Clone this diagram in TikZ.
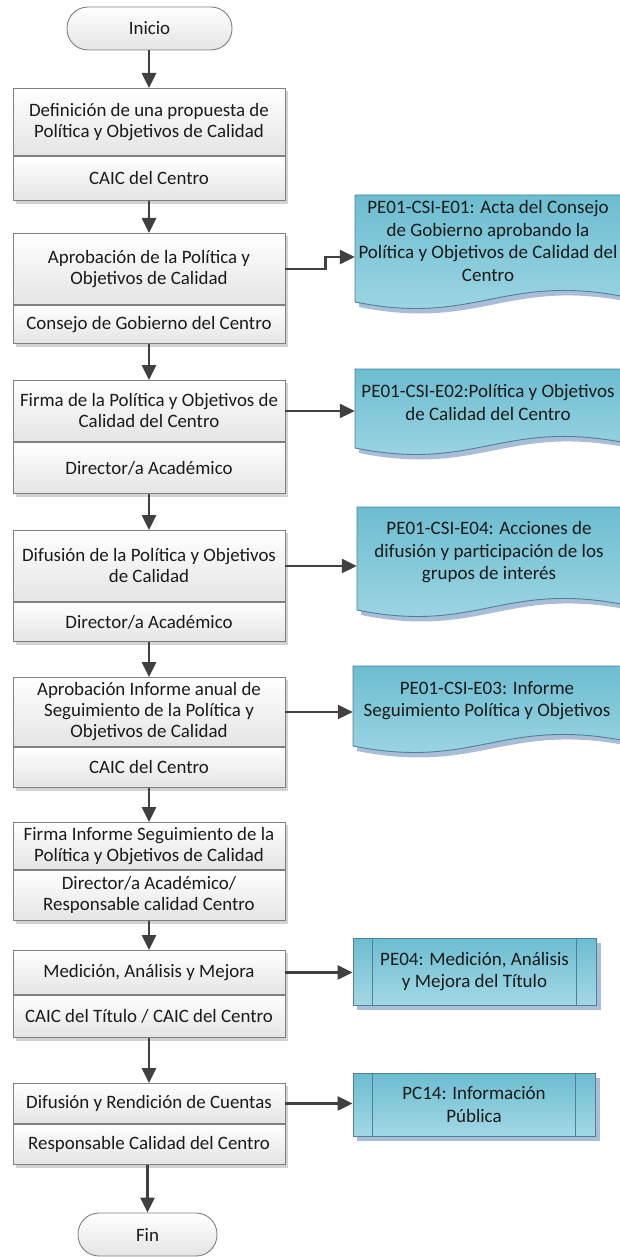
\documentclass[tikz,border=0pt]{standalone}
\usepackage{fontspec}
\setmainfont{Carlito}
\usetikzlibrary{arrows.meta,calc}
\definecolor{boxline}{HTML}{808080}
\definecolor{boxbot}{HTML}{E4E4E4}
\definecolor{boxshadow}{HTML}{D2D2D2}
\definecolor{arrowc}{HTML}{404040}
\definecolor{doctop}{HTML}{6CBDD0}
\definecolor{docbot}{HTML}{A3D8E5}
\definecolor{docline}{HTML}{4F7F99}
\definecolor{docshadow}{HTML}{A9BDD6}
\definecolor{txt}{HTML}{1A1A1A}
\pgfdeclarelayer{bg}
\pgfsetlayers{bg,main}
\newcommand\docpath[4]{%
  \fill[docshadow] ({#1+4},{#3+5}) -- ({#2+4},{#3+5}) -- ({#2+4},{#4-1}) .. controls ({#1+4+0.55*(#2-#1)},{#4-23}) and ({#1+4+0.45*(#2-#1)},{#4+29}) .. ({#1+4},{#4+5}) -- cycle;
  \path[draw=docline, line width=0.9pt, top color=doctop, bottom color=docbot] (#1,#3) -- (#2,#3) -- (#2,{#4-6}) .. controls ({#1+0.55*(#2-#1)},{#4-28}) and ({#1+0.45*(#2-#1)},{#4+24}) .. (#1,#4) -- cycle;}
\begin{document}
\begin{tikzpicture}[x=1pt,y=-1pt,
  font=\fontsize{18.9}{21}\selectfont,
  sec/.style={draw=boxline, line width=0.9pt, top color=white, bottom color=boxbot, minimum width=272pt, inner sep=0pt, align=center, anchor=north, text=txt},
  term/.style={draw=boxline, line width=0.9pt, top color=white, bottom color=boxbot, rounded corners=21pt, minimum height=43pt, inner sep=0pt, text=txt},
  doctext/.style={align=center, inner sep=0pt, text=txt, font=\fontsize{19}{22.5}\selectfont},
  predef/.style={draw=docline, line width=0.9pt, top color=doctop, bottom color=docbot, align=center, inner sep=0pt, text=txt, font=\fontsize{19}{22.5}\selectfont},
  arr/.style={draw=arrowc, line width=2.6pt, -{Triangle[length=15pt,width=14pt]}},
]
\useasboundingbox (0,0) rectangle (619,1257);
\begin{pgfonlayer}{bg}
\fill[white] (0,0) rectangle (619,1257);
\end{pgfonlayer}

% terminals
\node[term, minimum width=165pt] (ini) at (149.5,28.5) {Inicio};
\node[term, minimum width=139pt] (fin) at (147.5,1234.5) {Fin};

% process boxes
\node[sec, minimum height=67pt] (t1) at (149,88) {Definición de una propuesta de\\Política y Objetivos de Calidad};
\node[sec, minimum height=44pt] (s1) at (t1.south) {CAIC del Centro};
\node[sec, minimum height=71pt] (t2) at (149,233) {Aprobación de la Política y\\Objetivos de Calidad};
\node[sec, minimum height=38pt] (s2) at (t2.south) {Consejo de Gobierno del Centro};
\node[sec, minimum height=61pt] (t3) at (149,380) {Firma de la Política y Objetivos de\\Calidad del Centro};
\node[sec, minimum height=51pt] (s3) at (t3.south) {Director/a Académico};
\node[sec, minimum height=71pt] (t4) at (149,530) {Difusión de la Política y Objetivos\\de Calidad};
\node[sec, minimum height=39pt] (s4) at (t4.south) {Director/a Académico};
\node[sec, minimum height=69pt] (t5) at (149,677) {Aprobación Informe anual de\\Seguimiento de la Política y\\Objetivos de Calidad};
\node[sec, minimum height=40pt] (s5) at (t5.south) {CAIC del Centro};
\node[sec, minimum height=47pt] (t6) at (149,822) {Firma Informe Seguimiento de la\\Política y Objetivos de Calidad};
\node[sec, minimum height=50pt] (s6) at (t6.south) {Director/a Académico/\\Responsable calidad Centro};
\node[sec, minimum height=44pt] (t7) at (149,950) {Medición, Análisis y Mejora};
\node[sec, minimum height=42pt] (s7) at (t7.south) {CAIC del Título / CAIC del Centro};
\node[sec, minimum height=40pt] (t8) at (149,1083) {Difusión y Rendición de Cuentas};
\node[sec, minimum height=40pt] (s8) at (t8.south) {Responsable Calidad del Centro};

\begin{pgfonlayer}{bg}
\foreach \n in {1,...,8}{
  \fill[boxshadow] ([xshift=3pt,yshift=-3pt]t\n.north west) rectangle ([xshift=3pt,yshift=-3pt]s\n.south east);
}
\docpath{355}{621}{195}{302}
\docpath{355}{621}{369}{448}
\docpath{357}{621}{507}{610}
\docpath{353}{621}{666}{746}
\fill[docshadow] (357,943) rectangle (601,1010);
\fill[docshadow] (357,1078) rectangle (600,1141);
\end{pgfonlayer}

% documents
\node[doctext, minimum width=266pt] (d1) at (488,241) {PE01-CSI-E01: Acta del Consejo\\de Gobierno aprobando la\\Política y Objetivos de Calidad del\\Centro};
\node[doctext, minimum width=266pt] (d2) at (488,402.5) {PE01-CSI-E02:Política y Objetivos\\de Calidad del Centro};
\node[doctext, minimum width=264pt] (d3) at (489,552.5) {PE01-CSI-E04: Acciones de\\difusión y participación de los\\grupos de interés};
\node[doctext, minimum width=268pt] (d4) at (487,700.5) {PE01-CSI-E03: Informe\\Seguimiento Política y Objetivos};

% predefined processes
\node[predef, minimum width=243pt, minimum height=67pt] (p1) at (474.5,971.5) {PE04: Medición, Análisis\\y Mejora del Título};
\node[predef, minimum width=242pt, minimum height=63pt] (p2) at (474,1104.5) {PC14: Información\\Pública};
\foreach \p in {p1,p2}{
  \draw[docline, line width=0.9pt] ([xshift=20pt]\p.north west) -- ([xshift=20pt]\p.south west);
  \draw[docline, line width=0.9pt] ([xshift=-20pt]\p.north east) -- ([xshift=-20pt]\p.south east);
}

% vertical flow
\draw[arr] (t1.north |- ini.south) -- (t1.north);
\draw[arr] (s1.south) -- (t2.north);
\draw[arr] (s2.south) -- (t3.north);
\draw[arr] (s3.south) -- (t4.north);
\draw[arr] (s4.south) -- (t5.north);
\draw[arr] (s5.south) -- (t6.north);
\draw[arr] (s6.south) -- (t7.north);
\draw[arr] (s7.south) -- (t8.north);
\draw[arr] (s8.south -| fin.north) -- (fin.north);

% horizontal to outputs
\draw[arr] (t2.east) -- ++(40,0) |- ([yshift=-16pt]d1.west);
\draw[arr] (t3.east) -- (t3.east -| d2.west);
\draw[arr] (t4.east) -- (t4.east -| d3.west);
\draw[arr] (t5.east) -- (t5.east -| d4.west);
\draw[arr] (t7.east) -- (t7.east -| p1.west);
\draw[arr] (t8.east) -- (t8.east -| p2.west);
\end{tikzpicture}
\end{document}
